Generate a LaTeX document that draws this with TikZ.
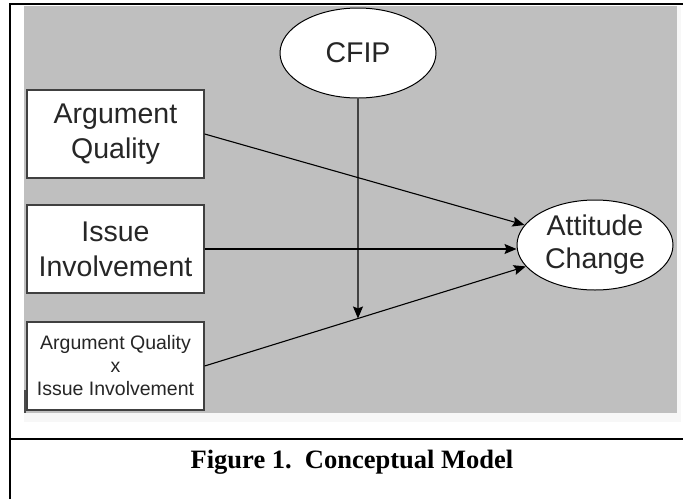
\documentclass[tikz,border=0pt]{standalone}
\usepackage{fontspec}
\setmainfont{Liberation Serif}
\setsansfont{Liberation Sans}
\usetikzlibrary{shapes.geometric,arrows.meta}

\tikzset{
  varbox/.style={draw=black!75,line width=1.3pt,fill=white,text=black!85,
    minimum width=177pt,minimum height=88pt,inner sep=0pt,align=center,
    font=\sffamily\fontsize{28.5}{35}\selectfont},
  latent/.style={ellipse,draw,line width=1pt,fill=white,text=black!85,
    minimum width=156pt,minimum height=90pt,inner sep=0pt,align=center,
    font=\sffamily\fontsize{28.5}{33}\selectfont},
  link/.style={-{Stealth[length=12pt,width=10pt,inset=2pt]},line width=1.1pt}
}

\begin{document}
\begin{tikzpicture}[x=1pt,y=-1pt]
  \useasboundingbox (0,0) rectangle (683,499);
  % panel and frame
  \fill[gray!6] (24,6) rectangle (681,422);
  \fill[black!25] (24,6) rectangle (677,413);
  \draw[black!70,line width=1.5pt] (25,390) -- (25,413);
  \draw[line width=2pt] (10,499) -- (10,4) -- (683,4);
  \draw[line width=2pt] (10,439) -- (683,439);

  \node (cfip) at (358,53) [latent] {CFIP};
  \node (att) at (595,245) [latent] {Attitude\\Change};
  \node (aq) at (115.5,134) [varbox] {Argument\\Quality};
  \node (ii) at (115.5,249) [varbox] {Issue\\Involvement};
  \node (aqii) at (115.5,366) [varbox,font=\sffamily\fontsize{19.5}{23}\selectfont]
    {Argument Quality\\x\\Issue Involvement};
  \coordinate (mod) at (intersection of aqii.east--att.center and cfip.north--cfip.south);
  \coordinate (ii-in) at (att.west |- ii.east);

  \path[link]
    (aq.east) edge (att)
    (ii.east) edge (ii-in)
    (aqii.east) edge (att)
    (cfip) edge (mod);

  \node (cap) at (352,462) {\bfseries\fontsize{26.5}{28}\selectfont Figure 1.\ \ Conceptual Model};
\end{tikzpicture}
\end{document}
